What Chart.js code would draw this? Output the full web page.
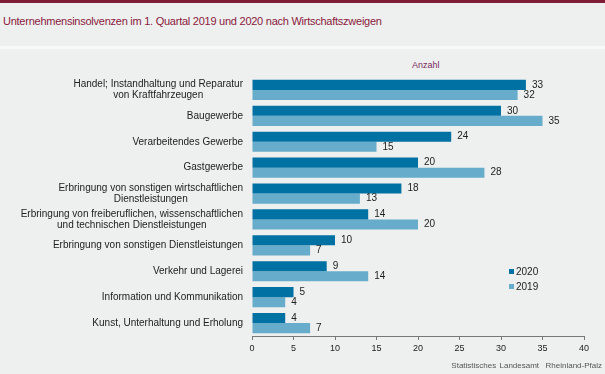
<!DOCTYPE html>
<html lang="de">
<head>
<meta charset="utf-8">
<script src="https://cdn.jsdelivr.net/npm/chart.js@4/dist/chart.umd.min.js"></script>
<style>
  html, body { margin: 0; padding: 0; background: #eeefef; }
  #wrap { position: relative; width: 605px; height: 374px; overflow: hidden; font-family: "Liberation Sans", Arial, sans-serif; }
  #topline { position: absolute; left: 0; top: 0; width: 605px; height: 3px; background: #7f1d38; }
  #titel { position: absolute; left: 3px; top: 15px; font-size: 11px; color: #8a1a3c; letter-spacing: -0.25px; }
  #trenner { position: absolute; left: 0; top: 46px; width: 605px; height: 3px; background: #f8f8f8; }
  #einheit { position: absolute; left: 412px; top: 60px; font-size: 9px; color: #7b2a5e; }
  #quelle { position: absolute; right: 3px; top: 361px; font-size: 8px; color: #555; word-spacing: 1px; }
  canvas { position: absolute; left: 0; top: 0; }
</style>
</head>
<body>
<div id="wrap">
  <div id="topline"></div>
  <div id="titel">Unternehmensinsolvenzen im 1. Quartal 2019 und 2020 nach Wirtschaftszweigen</div>
  <div id="trenner"></div>
  <div id="einheit">Anzahl</div>
  <canvas id="chart" width="605" height="374"></canvas>
  <div id="quelle">Statistisches Landesamt &nbsp;Rheinland-Pfalz</div>
</div>
<script>
// Wirtschaftszweige (mehrzeilig wie im Original)
const zweige = [
  ['Handel; Instandhaltung und Reparatur', 'von Kraftfahrzeugen'],
  'Baugewerbe',
  'Verarbeitendes Gewerbe',
  'Gastgewerbe',
  ['Erbringung von sonstigen wirtschaftlichen', 'Dienstleistungen'],
  ['Erbringung von freiberuflichen, wissenschaftlichen', 'und technischen Dienstleistungen'],
  'Erbringung von sonstigen Dienstleistungen',
  'Verkehr und Lagerei',
  'Information und Kommunikation',
  'Kunst, Unterhaltung und Erholung'
];
const werte2020 = [33, 30, 24, 20, 18, 14, 10, 9, 5, 4];
const werte2019 = [32, 35, 15, 28, 13, 20, 7, 14, 4, 7];
const xTicks = [0, 5, 10, 15, 20, 25, 30, 35, 40];

const farbe2020 = '#0071a3';
const farbe2019 = '#67acca';
const schrift = '"Liberation Sans", Arial, sans-serif';

// Beschriftungen der Kategorien: Block rechtsbuendig, Zeilen zentriert
const kategorienPlugin = {
  id: 'kategorien',
  afterDraw(chart) {
    const ctx = chart.ctx;
    const y = chart.scales.y;
    ctx.save();
    ctx.font = '10px ' + schrift;
    ctx.fillStyle = '#222';
    ctx.textBaseline = 'middle';
    ctx.textAlign = 'center';
    const rechts = 243;
    zweige.forEach((lbl, i) => {
      const zeilen = Array.isArray(lbl) ? lbl : [lbl];
      const breite = Math.max(...zeilen.map(z => ctx.measureText(z).width));
      const mitte = rechts - breite / 2;
      const yc = y.getPixelForTick(i);
      const lh = 11;
      zeilen.forEach((z, k) => {
        ctx.fillText(z, mitte, yc + (k - (zeilen.length - 1) / 2) * lh);
      });
    });
    ctx.restore();
  }
};

// Werte rechts neben den Balken
const wertePlugin = {
  id: 'werte',
  afterDatasetsDraw(chart) {
    const ctx = chart.ctx;
    ctx.save();
    ctx.font = '10px ' + schrift;
    ctx.fillStyle = '#222';
    ctx.textBaseline = 'middle';
    ctx.textAlign = 'left';
    chart.data.datasets.forEach((ds, di) => {
      chart.getDatasetMeta(di).data.forEach((bar, i) => {
        ctx.fillText(ds.data[i], bar.x + 6, bar.y);
      });
    });
    ctx.restore();
  }
};

// Legende frei platziert
const legendePlugin = {
  id: 'legende',
  afterDraw(chart) {
    const ctx = chart.ctx;
    ctx.save();
    ctx.font = '10px ' + schrift;
    ctx.textBaseline = 'middle';
    chart.data.datasets.forEach((ds, i) => {
      const yy = 272 + i * 15;
      ctx.fillStyle = ds.backgroundColor;
      ctx.fillRect(509, yy - 3, 5, 5);
      ctx.fillStyle = '#222';
      ctx.fillText(ds.label, 516, yy);
    });
    ctx.restore();
  }
};

new Chart(document.getElementById('chart'), {
  type: 'bar',
  data: {
    labels: zweige,
    datasets: [
      { label: '2020', data: werte2020, backgroundColor: farbe2020 },
      { label: '2019', data: werte2019, backgroundColor: farbe2019 }
    ]
  },
  options: {
    indexAxis: 'y',
    responsive: false,
    animation: false,
    categoryPercentage: 0.78,
    barPercentage: 1,
    layout: { padding: { top: 77, right: 21, left: 0, bottom: 0 } },
    plugins: { legend: { display: false }, tooltip: { enabled: false } },
    scales: {
      x: {
        min: 0,
        max: 40,
        afterBuildTicks: s => { s.ticks = xTicks.map(v => ({ value: v })); },
        afterFit: s => { s.height = 38; },
        grid: { display: true, drawOnChartArea: false, drawTicks: true, tickLength: 4, color: '#777' },
        border: { display: true, color: '#777' },
        ticks: { font: { family: schrift, size: 9 }, color: '#222', padding: 3 }
      },
      y: {
        afterFit: s => { s.width = 252; },
        grid: { display: false },
        border: { display: false },
        ticks: { display: false }
      }
    }
  },
  plugins: [kategorienPlugin, wertePlugin, legendePlugin]
});
</script>
</body>
</html>
